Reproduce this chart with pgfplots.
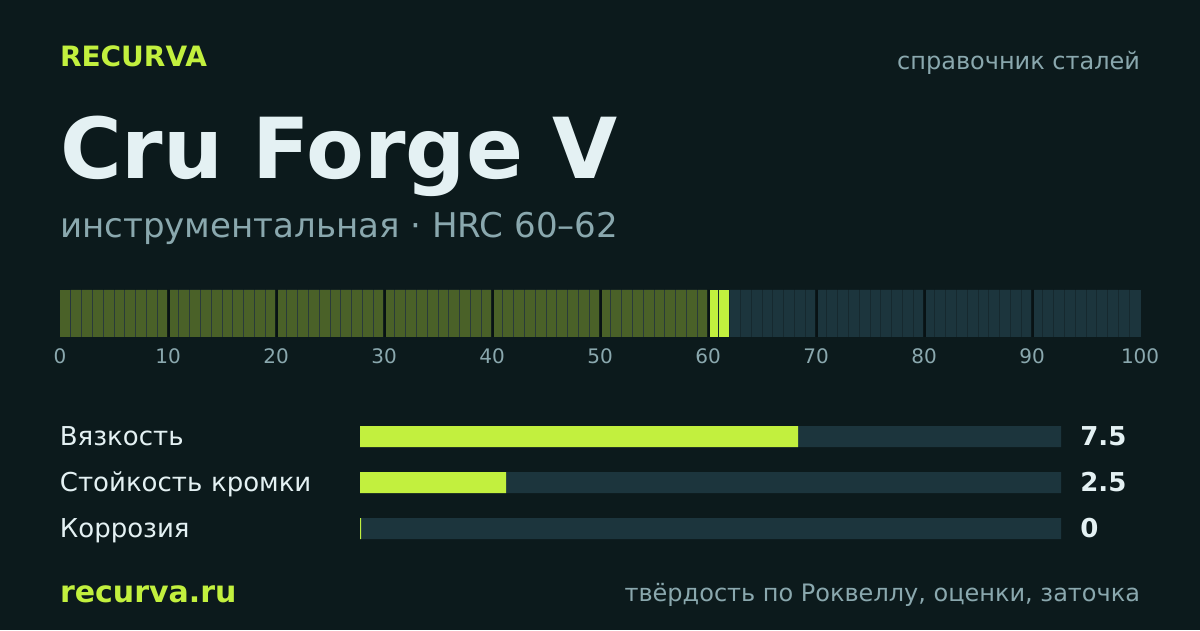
\documentclass[border=0pt]{standalone}
\usepackage{fontspec}
\setmainfont{DejaVu Sans}
\usepackage{pgfplots}
\pgfplotsset{compat=1.18}
\definecolor{bg}{HTML}{0C1A1C}
\definecolor{accent}{HTML}{C2F03E}
\definecolor{olive}{HTML}{4A6128}
\definecolor{track}{HTML}{1C353D}
\definecolor{muted}{HTML}{8AA8AE}
\definecolor{ink}{HTML}{E4F1F3}
\definecolor{notch}{HTML}{081214}
\definecolor{underO}{HTML}{26363C}
\definecolor{underT}{HTML}{16282E}
\newcommand{\fs}[1]{\fontsize{#1}{#1}\selectfont}
\newcommand{\seg}[4]{\addplot[ybar, fill=#1, bar width=#2pt, bar shift=#3pt] coordinates {#4};}
\begin{document}
\begin{tikzpicture}[x=1pt,y=1pt]
\useasboundingbox (0,0) rectangle (1200,630);
\fill[bg] (0,0) rectangle (1200,630);
\tikzset{txt/.style={inner sep=0pt,outer sep=0pt}}
\node[txt,anchor=base west,text=accent] at (60,563) {\fs{28}\bfseries RECURVA};
\node[txt,anchor=base east,text=muted] at (1140,560.5) {\fs{24}справочник сталей};
\node[txt,anchor=base west,text=ink] at (60,451) {\fs{84.15}\bfseries Cru Forge V};
\node[txt,anchor=base west,text=muted] at (60,392) {\fs{34.06}инструментальная · HRC 60–62};
\node[txt,anchor=base west,text=accent] at (60,28) {\fs{30}\bfseries recurva.ru};
\node[txt,anchor=base east,text=muted] at (1140,29) {\fs{24}твёрдость по Роквеллу, оценки, заточка};

% hardness scale
\begin{axis}[
  at={(60.1pt,293pt)}, anchor=south west, scale only axis,
  width=1080pt, height=47pt,
  xmin=0, xmax=100, ymin=0, ymax=1,
  clip=false,
  axis line style={draw=none}, tick style={draw=none},
  ytick=\empty,
  xtick={0,10,...,100},
  /pgf/number format/assume math mode=true,
  xticklabel style={font=\fs{20}, text=muted, anchor=base, inner sep=0pt, yshift=-27pt},
  every axis plot/.append style={draw=none},
]
% decade notches and hairline underlays
\seg{notch}{3}{0.5}{(10,1)(20,1)(30,1)(40,1)(50,1)(60,1)(70,1)(80,1)(90,1)}
\seg{underO}{107}{53.5}{(0,1)}
\seg{underO}{105}{54.5}{(10,1)(20,1)(30,1)(40,1)(50,1)}
\seg{underT}{105}{54.5}{(60,1)(70,1)(80,1)}
\seg{underT}{107}{55.5}{(90,1)}
% olive: below HRC 60
\seg{olive}{10}{5}{(0,1)}
\seg{olive}{8}{6}{(10,1)(20,1)(30,1)(40,1)(50,1)}
\seg{olive}{10}{5.2}{(1,1)(11,1)(21,1)(31,1)(41,1)(51,1)}
\seg{olive}{10}{5.4}{(2,1)(12,1)(22,1)(32,1)(42,1)(52,1)}
\seg{olive}{10}{5.6}{(3,1)(13,1)(23,1)(33,1)(43,1)(53,1)}
\seg{olive}{10}{5.8}{(4,1)(14,1)(24,1)(34,1)(44,1)(54,1)}
\seg{olive}{9}{5.5}{(5,1)(15,1)(25,1)(35,1)(45,1)(55,1)}
\seg{olive}{10}{5.2}{(6,1)(16,1)(26,1)(36,1)(46,1)(56,1)}
\seg{olive}{10}{5.4}{(7,1)(17,1)(27,1)(37,1)(47,1)(57,1)}
\seg{olive}{10}{5.6}{(8,1)(18,1)(28,1)(38,1)(48,1)(58,1)}
\seg{olive}{9}{5.3}{(9,1)(19,1)(29,1)(39,1)(49,1)(59,1)}
% accent: HRC 60-62
\seg{accent}{8}{6}{(60,1)}
\seg{accent}{10}{5.2}{(61,1)}
% rest of the scale
\seg{track}{8}{6}{(70,1)(80,1)(90,1)}
\seg{track}{10}{5.2}{(71,1)(81,1)(91,1)}
\seg{track}{10}{5.4}{(62,1)(72,1)(82,1)(92,1)}
\seg{track}{10}{5.6}{(63,1)(73,1)(83,1)(93,1)}
\seg{track}{10}{5.8}{(64,1)(74,1)(84,1)(94,1)}
\seg{track}{9}{5.5}{(65,1)(75,1)(85,1)(95,1)}
\seg{track}{10}{5.2}{(66,1)(76,1)(86,1)(96,1)}
\seg{track}{10}{5.4}{(67,1)(77,1)(87,1)(97,1)}
\seg{track}{10}{5.6}{(68,1)(78,1)(88,1)(98,1)}
\seg{track}{9}{5.3}{(69,1)(79,1)(89,1)}
\seg{track}{11}{6.3}{(99,1)}
\end{axis}

% ratings
\begin{axis}[
  at={(360.1pt,78.5pt)}, anchor=south west, scale only axis,
  width=701pt, height=138pt,
  xmin=0, xmax=12, ymin=-0.5, ymax=2.5, y dir=reverse,
  clip=false,
  axis line style={draw=none}, tick style={draw=none},
  xtick=\empty, ytick={0,1,2},
  yticklabels={Вязкость,Стойкость кромки,Коррозия},
  yticklabel style={font=\fs{26}, text=ink, text width=300pt, align=left, inner sep=0pt, anchor=base east, yshift=-8.5pt},
  every axis plot/.append style={draw=none},
]
\addplot[xbar, fill=track, bar width=21pt, point meta=explicit symbolic,
  nodes near coords={\pgfplotspointmeta},
  every node near coord/.style={anchor=base west, inner sep=0pt, xshift=19pt, yshift=-8.5pt, font=\fs{26}\bfseries, text=ink}]
  coordinates {(12,0)[7.5] (12,1)[2.5] (12,2)[0]};
\addplot[xbar, fill=accent, bar width=21pt] coordinates {(7.5,0)(2.5,1)(0.017,2)};
\end{axis}
\end{tikzpicture}
\end{document}
